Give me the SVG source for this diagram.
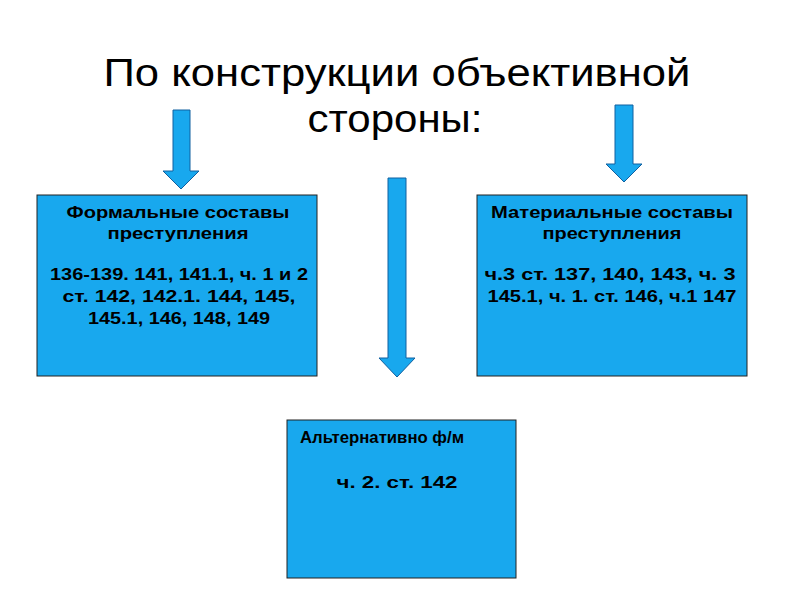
<svg xmlns="http://www.w3.org/2000/svg" width="794" height="595" viewBox="0 0 794 595">
<style>
.box{fill:#18a8ee;stroke:#222;stroke-width:1}
.arr{fill:#18a8ee;stroke:#1060a0;stroke-width:1}
.t{font-family:"Liberation Sans",Arial,sans-serif;font-weight:bold;font-size:16px;fill:#000;text-anchor:middle}
.h{font-family:"Liberation Sans",Arial,sans-serif;font-size:38px;fill:#000;text-anchor:middle}
</style>
<rect width="794" height="595" fill="#fff"/>
<text class="h" x="397" y="86" textLength="587" lengthAdjust="spacingAndGlyphs">По конструкции объективной</text>
<text class="h" x="395" y="132" textLength="175" lengthAdjust="spacingAndGlyphs">стороны:</text>
<g id="connectors">
<polygon class="arr" points="173,110 190,110 190,171 199,171 181,189 163,171 173,171"/>
<polygon class="arr" points="388,178 406,178 406,358 415,358 397,377 379,358 388,358"/>
<polygon class="arr" points="615,105 633,105 633,164 642,164 624,182 606,164 615,164"/>
</g>
<g id="formal">
<rect class="box" x="37" y="195" width="280" height="181"/>
<text class="t" x="178" y="218" textLength="223" lengthAdjust="spacingAndGlyphs">Формальные составы</text>
<text class="t" x="178" y="239" textLength="141" lengthAdjust="spacingAndGlyphs">преступления</text>
<text class="t" x="179" y="280" textLength="258" lengthAdjust="spacingAndGlyphs">136-139. 141, 141.1, ч. 1 и 2</text>
<text class="t" x="179" y="302" textLength="233" lengthAdjust="spacingAndGlyphs">ст. 142, 142.1. 144, 145,</text>
<text class="t" x="179" y="324" textLength="182" lengthAdjust="spacingAndGlyphs">145.1, 146, 148, 149</text>
</g>
<g id="material">
<rect class="box" x="477" y="195" width="270" height="181"/>
<text class="t" x="612" y="218" textLength="242" lengthAdjust="spacingAndGlyphs">Материальные составы</text>
<text class="t" x="612" y="239" textLength="139" lengthAdjust="spacingAndGlyphs">преступления</text>
<text class="t" x="610" y="280" textLength="251" lengthAdjust="spacingAndGlyphs">ч.3 ст. 137, 140, 143, ч. 3</text>
<text class="t" x="612" y="302" textLength="249" lengthAdjust="spacingAndGlyphs">145.1, ч. 1. ст. 146, ч.1 147</text>
</g>
<g id="alt">
<rect class="box" x="287" y="420" width="229" height="158"/>
<text class="t" x="382" y="443" textLength="164" lengthAdjust="spacingAndGlyphs">Альтернативно ф/м</text>
<text class="t" x="397" y="488" textLength="121" lengthAdjust="spacingAndGlyphs">ч. 2. ст.  142</text>
</g>
</svg>
